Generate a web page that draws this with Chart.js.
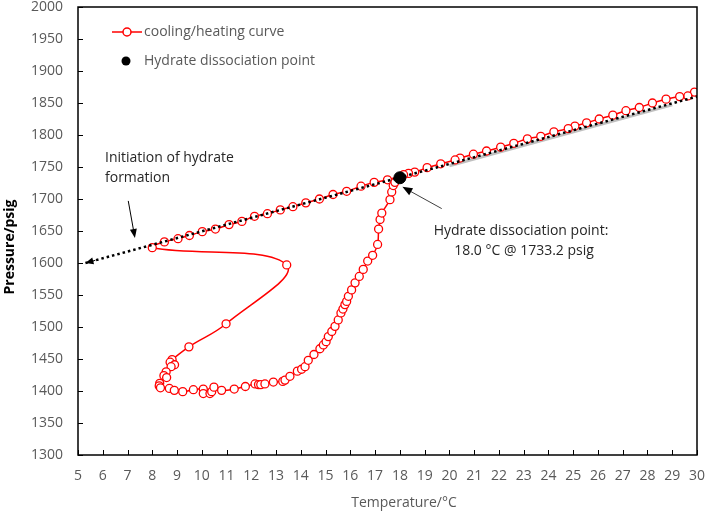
<!DOCTYPE html>
<html>
<head>
<meta charset="utf-8">
<script src="https://cdn.jsdelivr.net/npm/chart.js@4.4.0/dist/chart.umd.min.js"></script>
<style>
  html, body { margin: 0; padding: 0; background: #fff; }
  canvas { display: block; }
</style>
</head>
<body>
<canvas id="hydrateChart" width="706" height="514"></canvas>
<script>
// cooling branch: 30 °C down to the onset of hydrate formation
const coolTemp  = [29.9, 29.63, 29.3, 28.75, 28.2, 27.67, 27.13, 26.6, 26.05, 25.54, 25.07, 24.8, 24.22, 23.69, 23.15, 22.6, 22.07, 21.5, 20.97, 20.43, 20.23, 19.65, 19.1, 18.6, 18.35, 18.15, 17.5, 16.96, 16.43, 15.85, 15.3, 14.75, 14.2, 13.68, 13.17, 12.65, 12.13, 11.62, 11.1, 10.55, 10.02, 9.5, 9.04, 8.49, 8.0];
const coolPress = [1867, 1861, 1860, 1856, 1850, 1843, 1838, 1831, 1825, 1819, 1814, 1810, 1805, 1798, 1794, 1787, 1781, 1775, 1770, 1764, 1761, 1755, 1749, 1742, 1740, 1738, 1730, 1726, 1720, 1712, 1707, 1700, 1694, 1688, 1683, 1677, 1673, 1665, 1660, 1653, 1649, 1643, 1638, 1633, 1624];

// hydrate formation: pressure drop after nucleation
const formTemp  = [13.43, 10.98, 9.48, 8.8, 8.72, 8.9, 8.76, 8.56, 8.47, 8.58, 8.3, 8.28, 8.33];
const formPress = [1597, 1505, 1469, 1449, 1445, 1441, 1438, 1430, 1424, 1421, 1412, 1408, 1405];

// heating branch back to the dissociation point
const heatTemp  = [8.69, 8.89, 9.23, 9.66, 10.06, 10.06, 10.33, 10.4, 10.49, 10.8, 11.31, 11.76, 12.15, 12.29, 12.38, 12.55, 12.89, 13.27, 13.36, 13.56, 13.86, 14.03, 14.17, 14.3, 14.53, 14.77, 14.91, 15.02, 15.11, 15.25, 15.38, 15.51, 15.62, 15.7, 15.78, 15.85, 15.92, 16.05, 16.19, 16.36, 16.52, 16.7, 16.9, 17.1, 17.14, 17.2, 17.27, 17.6, 17.67, 17.73, 17.8, 18.0];
const heatPress = [1404, 1401, 1399, 1402, 1403, 1396, 1396, 1399, 1406, 1401, 1403, 1407, 1411, 1410, 1410, 1411, 1414, 1415, 1417, 1423, 1431, 1434, 1438, 1448, 1457, 1466, 1472, 1477, 1485, 1493, 1501, 1511, 1522, 1528, 1535, 1540, 1548, 1558, 1569, 1579, 1590, 1603, 1612, 1629, 1653, 1668, 1678, 1699, 1711, 1721, 1726, 1733];

// dissociation point
const dissTemp  = [18.0];
const dissPress = [1733.2];

// extrapolated cooling line (dotted) and its grey shadow
const lineTemp   = [5.3, 30];
const linePress  = [1600, 1860];
const shadeTemp  = [20, 29];
const shadePress = [1752, 1847];

// axis ticks
const xTicks = [5, 6, 7, 8, 9, 10, 11, 12, 13, 14, 15, 16, 17, 18, 19, 20, 21, 22, 23, 24, 25, 26, 27, 28, 29, 30];
const yTicks = [1300, 1350, 1400, 1450, 1500, 1550, 1600, 1650, 1700, 1750, 1800, 1850, 1900, 1950, 2000];

const pts = (xs, ys) => xs.map((v, i) => ({ x: v, y: ys[i] }));
const curve = pts(coolTemp, coolPress).concat(pts(formTemp, formPress), pts(heatTemp, heatPress));

const FONT = "'Open Sans', 'Noto Sans', sans-serif";
const GREY = '#595959';

function arrow(ctx, x1, y1, x2, y2, len, half) {
    const ang = Math.atan2(y2 - y1, x2 - x1);
    ctx.beginPath();
    ctx.moveTo(x1, y1);
    ctx.lineTo(x2 - Math.cos(ang) * len * 0.8, y2 - Math.sin(ang) * len * 0.8);
    ctx.stroke();
    ctx.beginPath();
    ctx.moveTo(x2, y2);
    ctx.lineTo(x2 - Math.cos(ang) * len + Math.sin(ang) * half, y2 - Math.sin(ang) * len - Math.cos(ang) * half);
    ctx.lineTo(x2 - Math.cos(ang) * len - Math.sin(ang) * half, y2 - Math.sin(ang) * len + Math.cos(ang) * half);
    ctx.closePath();
    ctx.fill();
}

const decorations = {
    id: 'decorations',
    afterDraw(chart) {
        const { ctx, chartArea: a, scales: { x, y } } = chart;
        ctx.save();

        // frame
        ctx.strokeStyle = '#000';
        ctx.lineWidth = 1.5;
        ctx.strokeRect(a.left, a.top, a.right - a.left, a.bottom - a.top);

        // inward tick marks
        ctx.lineWidth = 1;
        ctx.beginPath();
        xTicks.forEach(t => {
            const px = Math.round(x.getPixelForValue(t)) + 0.5;
            ctx.moveTo(px, a.bottom); ctx.lineTo(px, a.bottom - 5);
        });
        yTicks.forEach(t => {
            const py = Math.round(y.getPixelForValue(t)) + 0.5;
            ctx.moveTo(a.left, py); ctx.lineTo(a.left + 5, py);
        });
        ctx.stroke();

        // arrow head at the start of the dotted line
        ctx.fillStyle = '#000';
        ctx.strokeStyle = '#000';
        const slope = (linePress[1] - linePress[0]) / (lineTemp[1] - lineTemp[0]);
        const hx = x.getPixelForValue(lineTemp[0]), hy = y.getPixelForValue(linePress[0]);
        const tx = x.getPixelForValue(lineTemp[0] + 0.4), ty = y.getPixelForValue(linePress[0] + 0.4 * slope);
        ctx.lineWidth = 0;
        arrow(ctx, tx, ty, hx, hy, 8, 3.5);

        // annotation arrows
        ctx.lineWidth = 1;
        arrow(ctx, x.getPixelForValue(7.03), y.getPixelForValue(1697),
                   x.getPixelForValue(7.3), y.getPixelForValue(1639), 9, 3.5);
        ctx.strokeStyle = '#404040';
        ctx.fillStyle = '#000';
        arrow(ctx, x.getPixelForValue(19.69), y.getPixelForValue(1685),
                   x.getPixelForValue(18.1), y.getPixelForValue(1719), 10, 4);

        // annotation texts
        ctx.fillStyle = '#262626';
        ctx.font = '14px ' + FONT;
        ctx.textBaseline = 'middle';
        ctx.textAlign = 'left';
        ctx.fillText('Initiation of hydrate', a.left + 27, 158);
        ctx.fillText('formation', a.left + 27, 178);
        ctx.textAlign = 'center';
        ctx.fillText('Hydrate dissociation point:', 521, 231);
        ctx.fillText('18.0 °C @ 1733.2 psig', 524, 251);

        // legend
        const lx = a.left + 34, ly1 = a.top + 25, ly2 = a.top + 54;
        ctx.strokeStyle = '#ff0000';
        ctx.lineWidth = 1.5;
        ctx.beginPath(); ctx.moveTo(lx, ly1); ctx.lineTo(lx + 30, ly1); ctx.stroke();
        ctx.fillStyle = '#fff';
        ctx.beginPath(); ctx.arc(lx + 15, ly1, 4, 0, Math.PI * 2); ctx.fill(); ctx.stroke();
        ctx.fillStyle = '#000';
        ctx.beginPath(); ctx.arc(lx + 14, ly2, 4.5, 0, Math.PI * 2); ctx.fill();
        ctx.fillStyle = GREY;
        ctx.textAlign = 'left';
        ctx.fillText('cooling/heating curve', lx + 32, ly1);
        ctx.fillText('Hydrate dissociation point', lx + 32, ly2);

        // axis titles
        ctx.textAlign = 'center';
        ctx.fillText('Temperature/°C', 404, 503);
        ctx.save();
        ctx.translate(10, 247);
        ctx.rotate(-Math.PI / 2);
        ctx.fillStyle = '#000';
        ctx.font = 'bold 14px ' + FONT;
        ctx.fillText('Pressure/psig', 0, 0);
        ctx.restore();

        ctx.restore();
    }
};

const ctx = document.getElementById('hydrateChart').getContext('2d');
new Chart(ctx, {
    type: 'scatter',
    data: {
        datasets: [
            {
                label: 'shadow',
                data: pts(shadeTemp, shadePress),
                showLine: true,
                borderColor: 'rgba(140, 140, 140, 0.55)',
                borderWidth: 3,
                pointRadius: 0,
                order: 4
            },
            {
                label: 'cooling/heating curve',
                data: curve,
                showLine: true,
                tension: 0.4,
                borderColor: '#ff0000',
                borderWidth: 1.5,
                pointRadius: 4,
                pointBorderWidth: 1.3,
                pointBackgroundColor: '#ffffff',
                pointBorderColor: '#ff0000',
                order: 3
            },
            {
                label: 'extrapolation',
                data: pts(lineTemp, linePress),
                showLine: true,
                borderColor: '#000000',
                borderWidth: 2.5,
                borderDash: [2.5, 3],
                pointRadius: 0,
                order: 2
            },
            {
                label: 'Hydrate dissociation point',
                data: pts(dissTemp, dissPress),
                pointRadius: 6,
                pointBackgroundColor: '#000000',
                pointBorderColor: '#000000',
                order: 1
            }
        ]
    },
    options: {
        responsive: false,
        animation: false,
        layout: { padding: { top: 7, right: 9, left: 0, bottom: 0 } },
        plugins: {
            legend: { display: false },
            tooltip: { enabled: false }
        },
        scales: {
            x: {
                type: 'linear',
                min: 5,
                max: 30,
                afterFit: s => { s.height = 59; s.paddingLeft = 0; s.paddingRight = 0; },
                afterBuildTicks: s => { s.ticks = xTicks.map(v => ({ value: v })); },
                grid: { display: false, drawTicks: false },
                border: { display: false },
                ticks: { color: GREY, padding: 13, font: { family: FONT, size: 14 }, maxRotation: 0, autoSkip: false, callback: v => String(v) }
            },
            y: {
                min: 1300,
                max: 2000,
                afterFit: s => { s.width = 78; s.paddingTop = 0; s.paddingBottom = 0; },
                afterBuildTicks: s => { s.ticks = yTicks.map(v => ({ value: v })); },
                grid: { display: false, drawTicks: false },
                border: { display: false },
                ticks: { color: GREY, padding: 15, font: { family: FONT, size: 14 }, callback: v => String(v) }
            }
        }
    },
    plugins: [decorations]
});
</script>
</body>
</html>
